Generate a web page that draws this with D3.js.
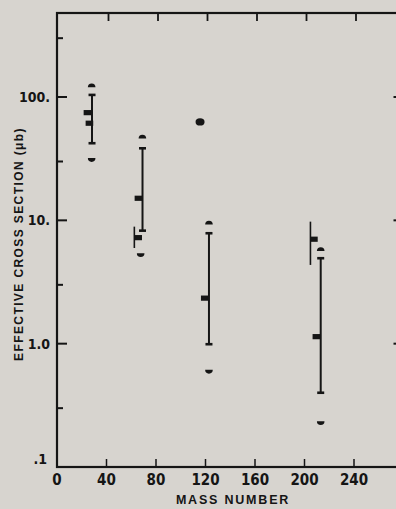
<!DOCTYPE html>
<html><head><meta charset="utf-8">
<script src="https://cdn.jsdelivr.net/npm/d3@7"></script>
<style>
html,body{margin:0;padding:0;background:#d7d4cf;}
svg{display:block;}
text{font-family:"Liberation Sans Narrow","DejaVu Sans Condensed","Liberation Sans",sans-serif;fill:#151515;}
</style></head><body>
<svg id="c" width="396" height="509"></svg>
<script>
// ---- data ----
const xTicks = [0, 40, 80, 120, 160, 200, 240];
const xTopTicks = [40, 80, 120, 160, 200, 240];
const yMajor = [0.1, 1, 10, 100];
const yMajorLabels = [".1", "1.0", "10.", "100."];
const yMinor = [0.3, 3, 30, 300];
const yRightTicks = [1, 10, 100];
// main error bars (with caps)
const barMass = [28.3, 69.1, 122.8, 213.1];
const barLow  = [42.2, 8.25, 0.99, 0.40];
const barHigh = [104, 38.4, 7.86, 4.93];
// upper bound dots
const upperMass = [28, 69, 122.8, 213.1];
const upperVal  = [124, 47.7, 9.58, 5.83];
// lower bound dots
const lowerMass = [28, 67.6, 122.8, 213.1];
const lowerVal  = [30.9, 5.24, 0.593, 0.227];
// square data marks
const markMass = [24.6, 26.2, 65.8, 65.6, 119.4, 209.6, 207.6];
const markVal  = [74.7, 61.3, 15.1, 7.24, 2.34, 1.14, 7.03];
// short side bars (no caps)
const sideMass = [62.5, 204.8];
const sideLow  = [5.97, 4.35];
const sideHigh = [8.89, 9.76];
// isolated point
const blobMass = [115.6];
const blobVal  = [62.8];

// ---- scales ----
const svg = d3.select("#c");
const x = d3.scaleLinear().domain([0, 280]).range([57, 403.5]);
const y = d3.scaleLog().domain([0.1, 480]).range([467, 13]);
const ink = "#151515";

// frame
svg.append("rect").attr("x", x(0)).attr("y", y(480)).attr("width", x(280) - x(0)).attr("height", y(0.1) - y(480))
  .attr("fill", "none").attr("stroke", ink).attr("stroke-width", 2.2);

// left axis ticks
svg.selectAll(".ylm").data(yMajor.filter(d => d > 0.1)).join("line")
  .attr("x1", x(0)).attr("x2", x(0) + 10).attr("y1", d => y(d)).attr("y2", d => y(d))
  .attr("stroke", ink).attr("stroke-width", 2);
svg.selectAll(".yln").data(yMinor).join("line")
  .attr("x1", x(0)).attr("x2", x(0) + 6).attr("y1", d => y(d)).attr("y2", d => y(d))
  .attr("stroke", ink).attr("stroke-width", 2);
// right axis ticks
svg.selectAll(".yr").data(yRightTicks).join("line")
  .attr("x1", x(280)).attr("x2", x(280) - 10).attr("y1", d => y(d)).attr("y2", d => y(d))
  .attr("stroke", ink).attr("stroke-width", 2);
// bottom ticks
svg.selectAll(".xb").data(xTicks.filter(d => d > 0)).join("line")
  .attr("x1", d => x(d)).attr("x2", d => x(d)).attr("y1", y(0.1)).attr("y2", y(0.1) - 8)
  .attr("stroke", ink).attr("stroke-width", 1.5);
// top ticks
svg.selectAll(".xt").data(xTopTicks).join("line")
  .attr("x1", d => x(d) + 2).attr("x2", d => x(d) + 2).attr("y1", y(480)).attr("y2", y(480) + 8)
  .attr("stroke", ink).attr("stroke-width", 1.8);

// tick labels
svg.selectAll(".yl").data(yMajor).join("text")
  .attr("x", (d, i) => i === 0 ? 47 : 50).attr("y", (d, i) => i === 0 ? y(d) - 8 : y(d))
  .attr("dy", "0.36em").attr("text-anchor", "end")
  .attr("font-size", 14).attr("font-weight", "bold")
  .text((d, i) => yMajorLabels[i]);
svg.selectAll(".xl").data(xTicks).join("text")
  .attr("x", d => x(d)).attr("y", 485).attr("text-anchor", "middle")
  .attr("font-size", 15).attr("font-weight", "bold")
  .text(d => d);

// axis titles
svg.append("text").attr("x", 233).attr("y", 503.5).attr("text-anchor", "middle")
  .attr("font-size", 12.5).attr("font-weight", "bold")
  .style("font-family", "'Liberation Sans',sans-serif").attr("letter-spacing", 1.8)
  .text("MASS NUMBER");
svg.append("text").attr("transform", "translate(23,244) rotate(-90)").attr("text-anchor", "middle")
  .attr("font-size", 12).attr("font-weight", "bold")
  .style("font-family", "'Liberation Sans',sans-serif").attr("letter-spacing", 1.4)
  .text("EFFECTIVE CROSS SECTION (\u03bcb)");

// error bars
const g = svg.append("g");
barMass.forEach((m, i) => {
  g.append("line").attr("x1", x(m)).attr("x2", x(m)).attr("y1", y(barHigh[i])).attr("y2", y(barLow[i]))
    .attr("stroke", ink).attr("stroke-width", 2);
  [barHigh[i], barLow[i]].forEach(v => {
    g.append("line").attr("x1", x(m) - 3.5).attr("x2", x(m) + 3.5).attr("y1", y(v)).attr("y2", y(v))
      .attr("stroke", ink).attr("stroke-width", 2.6);
  });
});
sideMass.forEach((m, i) => {
  g.append("line").attr("x1", x(m)).attr("x2", x(m)).attr("y1", y(sideHigh[i])).attr("y2", y(sideLow[i]))
    .attr("stroke", ink).attr("stroke-width", 1.6);
});
// square marks
g.selectAll(".mk").data(markMass).join("rect")
  .attr("x", d => x(d) - 3.8).attr("y", (d, i) => y(markVal[i]) - 2.6)
  .attr("width", 7.6).attr("height", 5.2).attr("fill", ink);
// bound dots
const upArc = d3.arc().innerRadius(0).outerRadius(3.8).startAngle(-Math.PI / 2).endAngle(Math.PI / 2);
const dnArc = d3.arc().innerRadius(0).outerRadius(3.8).startAngle(Math.PI / 2).endAngle(3 * Math.PI / 2);
g.selectAll(".ud").data(upperMass).join("path")
  .attr("transform", (d, i) => `translate(${x(d)},${y(upperVal[i]) + 1.8})`)
  .attr("d", upArc()).attr("fill", ink);
g.selectAll(".ld").data(lowerMass).join("path")
  .attr("transform", (d, i) => `translate(${x(d)},${y(lowerVal[i]) - 1.8})`)
  .attr("d", dnArc()).attr("fill", ink);
// isolated point
g.selectAll(".bl").data(blobMass).join("ellipse")
  .attr("cx", d => x(d)).attr("cy", (d, i) => y(blobVal[i]))
  .attr("rx", 4.5).attr("ry", 3.6).attr("fill", ink);
</script>
</body></html>
